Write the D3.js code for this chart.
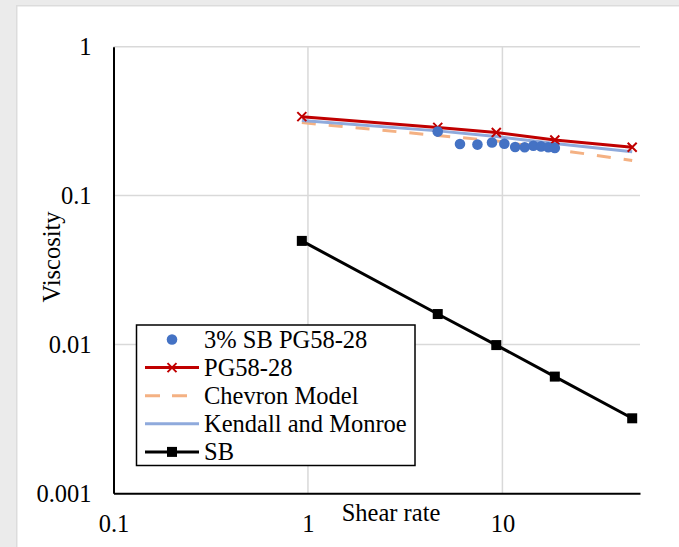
<!DOCTYPE html>
<html>
<head>
<meta charset="utf-8">
<script src="https://cdn.jsdelivr.net/npm/d3@7"></script>
<style>
  html, body { margin: 0; padding: 0; background: #ebebeb; }
  svg { display: block; }
  text { font-family: "Liberation Serif", "Times New Roman", serif; fill: #000; }
</style>
</head>
<body>
<svg id="chart" width="679" height="547"></svg>
<script>
// ---- data ----
const shearRates = [0.93, 4.65, 9.3, 18.6, 46.5];
const pg5828 = [0.339, 0.287, 0.265, 0.236, 0.211];
const chevron = [0.309, 0.253, 0.233, 0.204, 0.172];
const kendall = [0.319, 0.272, 0.249, 0.224, 0.197];
const sb = [0.0496, 0.0160, 0.0099, 0.00608, 0.00319];
const sbBlendRates = [4.65, 6.05, 7.44, 8.84, 10.23, 11.63, 13.02, 14.42, 15.81, 17.21, 18.6];
const sbBlend = [0.269, 0.222, 0.220, 0.227, 0.223, 0.212, 0.211, 0.216, 0.214, 0.211, 0.209];
const xTickValues = [0.1, 1, 10];
const xTickLabels = ["0.1", "1", "10"];
const yTickValues = [0.001, 0.01, 0.1, 1];
const yTickLabels = ["0.001", "0.01", "0.1", "1"];
const legendLabels = ["3% SB PG58-28", "PG58-28", "Chevron Model", "Kendall and Monroe", "SB"];

const FS = "24.5px";
const svg = d3.select("#chart");
const W = 679, H = 547;

// background panel
svg.append("rect").attr("x", 0).attr("y", 0).attr("width", W).attr("height", H).attr("fill", "#ebebeb");
svg.append("rect").attr("x", 16).attr("y", 5).attr("width", W).attr("height", H).attr("fill", "#dcdcdc");
svg.append("rect").attr("x", 17.5).attr("y", 6.5).attr("width", W).attr("height", H).attr("fill", "#ffffff");

const x = d3.scaleLog().domain([0.1, 51]).range([113.5, 640]);
const y = d3.scaleLog().domain([0.001, 1]).range([493.3, 46.7]);

// gridlines
const grid = svg.append("g");
grid.selectAll("line.vx").data(xTickValues.slice(1)).join("line")
  .attr("x1", d => x(d)).attr("x2", d => x(d))
  .attr("y1", y(1)).attr("y2", y(0.001))
  .attr("stroke", "#d9d9d9").attr("stroke-width", 1.5);
grid.selectAll("line.hy").data(yTickValues.slice(1)).join("line")
  .attr("x1", x(0.1)).attr("x2", x(51))
  .attr("y1", d => y(d)).attr("y2", d => y(d))
  .attr("stroke", "#d9d9d9").attr("stroke-width", 1.5);

// axes
const xAxis = d3.axisBottom(x).tickValues(xTickValues).tickSize(0).tickPadding(21)
  .tickFormat((d, i) => xTickLabels[i]);
const yAxis = d3.axisLeft(y).tickValues(yTickValues).tickSize(0).tickPadding(22)
  .tickFormat((d, i) => yTickLabels[i]);

const gx = svg.append("g").attr("transform", `translate(0,${y(0.001)})`).call(xAxis);
const gy = svg.append("g").attr("transform", `translate(${x(0.1)},0)`).call(yAxis);
[gx, gy].forEach(g => {
  g.select(".domain").attr("stroke", "#000").attr("stroke-width", 2);
  g.selectAll("text").style("font-family", "Liberation Serif").style("font-size", FS).attr("fill", "#000");
});

// axis titles
svg.append("text").attr("x", 391).attr("y", 520.5).attr("text-anchor", "middle")
  .style("font-size", FS).text("Shear rate");
svg.append("text").attr("transform", "translate(60,257) rotate(-90)").attr("text-anchor", "middle")
  .style("font-size", FS).text("Viscosity");

// series
const line = d3.line().x(d => x(d[0])).y(d => y(d[1]));
const zip = (a, b) => a.map((v, i) => [v, b[i]]);

svg.append("path").datum(zip(shearRates, chevron)).attr("d", line)
  .attr("fill", "none").attr("stroke", "#f4b183").attr("stroke-width", 3).attr("stroke-dasharray", "14,13");
svg.append("path").datum(zip(shearRates, kendall)).attr("d", line)
  .attr("fill", "none").attr("stroke", "#8faadc").attr("stroke-width", 3);
svg.append("path").datum(zip(shearRates, pg5828)).attr("d", line)
  .attr("fill", "none").attr("stroke", "#c00000").attr("stroke-width", 3);
const xm = 4.5;
svg.append("g").selectAll("path").data(zip(shearRates, pg5828)).join("path")
  .attr("d", d => { const cx = x(d[0]), cy = y(d[1]);
    return `M${cx - xm},${cy - xm}L${cx + xm},${cy + xm}M${cx - xm},${cy + xm}L${cx + xm},${cy - xm}`; })
  .attr("stroke", "#c00000").attr("stroke-width", 2);

svg.append("path").datum(zip(shearRates, sb)).attr("d", line)
  .attr("fill", "none").attr("stroke", "#000").attr("stroke-width", 3);
svg.append("g").selectAll("rect").data(zip(shearRates, sb)).join("rect")
  .attr("x", d => x(d[0]) - 5).attr("y", d => y(d[1]) - 5).attr("width", 10).attr("height", 10)
  .attr("fill", "#000");

svg.append("g").selectAll("circle").data(zip(sbBlendRates, sbBlend)).join("circle")
  .attr("cx", d => x(d[0])).attr("cy", d => y(d[1])).attr("r", 5.3).attr("fill", "#4472c4");

// legend
const lg = svg.append("g");
lg.append("rect").attr("x", 136.5).attr("y", 325).attr("width", 278.5).attr("height", 140.5)
  .attr("fill", "#fff").attr("stroke", "#000").attr("stroke-width", 1.5);
const rowY = i => 339.5 + i * 28.1;
legendLabels.forEach((lab, i) => {
  lg.append("text").attr("x", 204).attr("y", rowY(i) + 8).style("font-size", FS).text(lab);
});
lg.append("circle").attr("cx", 172).attr("cy", rowY(0)).attr("r", 5.3).attr("fill", "#4472c4");
lg.append("line").attr("x1", 145).attr("x2", 199).attr("y1", rowY(1)).attr("y2", rowY(1)).attr("stroke", "#c00000").attr("stroke-width", 3);
lg.append("path").attr("d", `M${172 - xm},${rowY(1) - xm}L${172 + xm},${rowY(1) + xm}M${172 - xm},${rowY(1) + xm}L${172 + xm},${rowY(1) - xm}`)
  .attr("stroke", "#c00000").attr("stroke-width", 2);
lg.append("line").attr("x1", 145).attr("x2", 199).attr("y1", rowY(2)).attr("y2", rowY(2)).attr("stroke", "#f4b183").attr("stroke-width", 3).attr("stroke-dasharray", "15,12");
lg.append("line").attr("x1", 145).attr("x2", 199).attr("y1", rowY(3)).attr("y2", rowY(3)).attr("stroke", "#8faadc").attr("stroke-width", 3);
lg.append("line").attr("x1", 145).attr("x2", 199).attr("y1", rowY(4)).attr("y2", rowY(4)).attr("stroke", "#000").attr("stroke-width", 3);
lg.append("rect").attr("x", 167).attr("y", rowY(4) - 5).attr("width", 10).attr("height", 10).attr("fill", "#000");
</script>
</body>
</html>
